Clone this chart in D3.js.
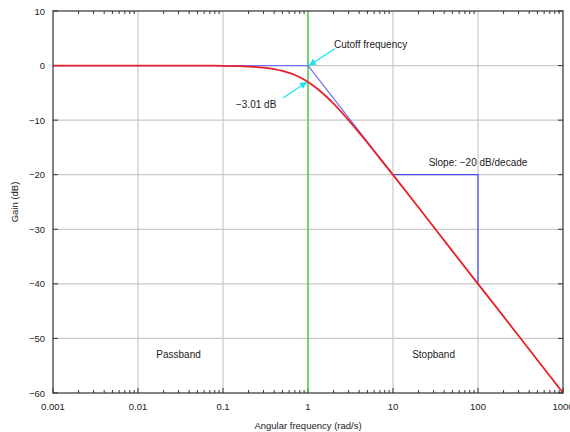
<!DOCTYPE html>
<html lang="en">
  <head>
    <meta charset="UTF-8" />
    <title>Bode magnitude plot</title>
    <script src="https://d3js.org/d3.v7.min.js"></script>
    <style>
      body { margin: 0; background: #fff; }
      text { font-family: "Liberation Sans", Arial, sans-serif; fill: #222; }
    </style>
  </head>
  <body>
    <svg id="chart" width="570" height="432"></svg>
    <script>
      // frequencies (rad/s) and gain (dB)
      var freqs = [0.001, 0.01, 0.05, 0.1, 0.2, 0.3, 0.4, 0.5, 0.6, 0.7, 0.8, 1, 1.2, 1.5, 2, 2.5, 3, 4, 5, 7, 10, 20, 50, 100, 300, 1000];
      var gains = [0, 0, -0.01, -0.04, -0.17, -0.37, -0.64, -0.97, -1.34, -1.73, -2.15, -3.01, -3.88, -5.12, -6.99, -8.6, -10, -12.3, -14.15, -17.0, -20.04, -26.0, -34.0, -40.0, -49.5, -60.0];
      // straight-line asymptote and slope marker
      var asymFreqs = [0.001, 1, 10];
      var asymGains = [0, 0, -20];
      var slopeFreqs = [10, 100, 100];
      var slopeGains = [-20, -20, -40];
      var xTicks = [0.001, 0.01, 0.1, 1, 10, 100, 1000];
      var xTickLabels = ["0.001", "0.01", "0.1", "1", "10", "100", "1000"];
      var yTicks = [10, 0, -10, -20, -30, -40, -50, -60];

      var svg = d3.select("#chart"),
        margin = { top: 11, right: 7, bottom: 39, left: 53 },
        width = +svg.attr("width") - margin.left - margin.right,
        height = +svg.attr("height") - margin.top - margin.bottom,
        g = svg.append("g").attr("transform", "translate(" + margin.left + "," + margin.top + ")");

      var x = d3.scaleLog().domain([0.001, 1000]).range([0, width]);
      var y = d3.scaleLinear().domain([-60, 10]).range([height, 0]);

      // grid
      g.selectAll(".vgrid").data(xTicks.slice(1, -1)).enter().append("line")
        .attr("x1", d => x(d)).attr("x2", d => x(d))
        .attr("y1", 0).attr("y2", height)
        .attr("stroke", "#c8c8c8").attr("stroke-width", 1.2);
      g.selectAll(".hgrid").data(yTicks.slice(1, -1)).enter().append("line")
        .attr("x1", 0).attr("x2", width)
        .attr("y1", d => y(d)).attr("y2", d => y(d))
        .attr("stroke", "#c8c8c8").attr("stroke-width", 1.2);

      // minor ticks on top and bottom
      var minor = [];
      for (var e = -3; e < 3; e++) {
        for (var m = 2; m <= 9; m++) minor.push(m * Math.pow(10, e));
      }
      g.selectAll(".mb").data(minor).enter().append("line")
        .attr("x1", d => x(d)).attr("x2", d => x(d))
        .attr("y1", height).attr("y2", height - 3)
        .attr("stroke", "#333");
      g.selectAll(".mt").data(minor).enter().append("line")
        .attr("x1", d => x(d)).attr("x2", d => x(d))
        .attr("y1", 0).attr("y2", 3)
        .attr("stroke", "#333");
      // major ticks left/right
      g.selectAll(".ml").data(yTicks).enter().append("line")
        .attr("x1", 0).attr("x2", 5)
        .attr("y1", d => y(d)).attr("y2", d => y(d))
        .attr("stroke", "#333");
      g.selectAll(".mr").data(yTicks).enter().append("line")
        .attr("x1", width - 5).attr("x2", width)
        .attr("y1", d => y(d)).attr("y2", d => y(d))
        .attr("stroke", "#333");
      g.selectAll(".mxb").data(xTicks).enter().append("line")
        .attr("x1", d => x(d)).attr("x2", d => x(d))
        .attr("y1", height).attr("y2", height - 5)
        .attr("stroke", "#333");

      // tick labels
      g.selectAll(".xl").data(xTicks).enter().append("text")
        .attr("x", d => x(d)).attr("y", height + 17)
        .attr("text-anchor", "middle").attr("font-size", 9.5)
        .text((d, i) => xTickLabels[i]);
      g.selectAll(".yl").data(yTicks).enter().append("text")
        .attr("x", -8).attr("y", d => y(d) + 3.5)
        .attr("text-anchor", "end").attr("font-size", 9.5)
        .text(d => (d < 0 ? "\u2212" + Math.abs(d) : d));

      // cutoff line
      g.append("line")
        .attr("x1", x(1)).attr("x2", x(1))
        .attr("y1", 0).attr("y2", height)
        .attr("stroke", "#3ed03e").attr("stroke-width", 1.3);

      // asymptote + slope marker
      var line = d3.line().x(d => x(d[0])).y(d => y(d[1]));
      g.append("path")
        .attr("d", line(asymFreqs.map((f, i) => [f, asymGains[i]])))
        .attr("fill", "none").attr("stroke", "#7070f0").attr("stroke-width", 1.2);
      g.append("path")
        .attr("d", line(slopeFreqs.map((f, i) => [f, slopeGains[i]])))
        .attr("fill", "none").attr("stroke", "#4a4af0").attr("stroke-width", 1.2);

      // gain curve
      var curve = d3.line().x(d => x(d[0])).y(d => y(d[1])).curve(d3.curveMonotoneX);
      g.append("path")
        .attr("d", curve(freqs.map((f, i) => [f, gains[i]])))
        .attr("fill", "none").attr("stroke", "#e8202a").attr("stroke-width", 1.8);

      // frame
      g.append("rect")
        .attr("width", width).attr("height", height)
        .attr("fill", "none").attr("stroke", "#333").attr("stroke-width", 1.2);

      // arrows
      svg.append("defs").append("marker")
        .attr("id", "arr").attr("viewBox", "0 0 10 10")
        .attr("refX", 10).attr("refY", 5)
        .attr("markerWidth", 9).attr("markerHeight", 7)
        .attr("markerUnits", "userSpaceOnUse")
        .attr("orient", "auto")
        .append("path").attr("d", "M0,0L10,5L0,10z").attr("fill", "#19e6f0");
      function arrow(x1, y1, x2, y2) {
        g.append("line")
          .attr("x1", x1).attr("y1", y1).attr("x2", x2).attr("y2", y2)
          .attr("stroke", "#19e6f0").attr("stroke-width", 1.3)
          .attr("marker-end", "url(#arr)");
      }
      arrow(x(1) + 27, y(0) - 17, x(1) + 1, y(0));
      arrow(x(1) - 25, y(-3.01) + 16, x(1) - 1, y(-3.01));

      // annotations
      g.append("text").attr("x", x(1) + 26).attr("y", y(0) - 18)
        .attr("font-size", 10).text("Cutoff frequency");
      g.append("text").attr("x", x(1) - 72).attr("y", y(-3.01) + 26)
        .attr("font-size", 10).text("\u22123.01 dB");
      g.append("text").attr("x", x(100)).attr("y", y(-20) - 9)
        .attr("text-anchor", "middle").attr("font-size", 10).text("Slope: \u221220 dB/decade");
      g.append("text").attr("x", x(0.03)).attr("y", y(-50) + 20)
        .attr("text-anchor", "middle").attr("font-size", 10).text("Passband");
      g.append("text").attr("x", x(30)).attr("y", y(-50) + 20)
        .attr("text-anchor", "middle").attr("font-size", 10).text("Stopband");

      // axis titles
      g.append("text").attr("x", x(1)).attr("y", height + 36)
        .attr("text-anchor", "middle").attr("font-size", 9.5).text("Angular frequency (rad/s)");
      g.append("text")
        .attr("transform", "translate(" + (-35) + "," + y(-25) + ") rotate(-90)")
        .attr("text-anchor", "middle").attr("font-size", 9.5).text("Gain (dB)");
    </script>
  </body>
</html>
